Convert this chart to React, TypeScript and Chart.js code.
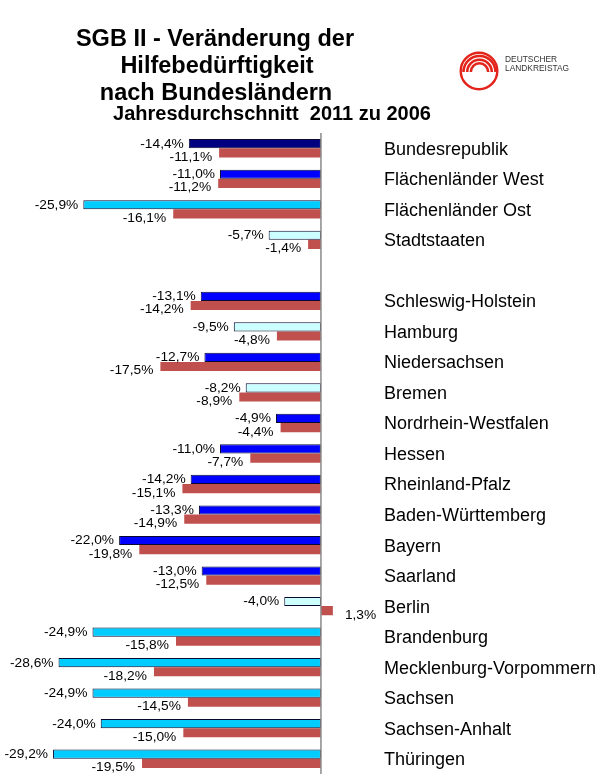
import React, { useEffect, useRef } from 'react';
import { Chart, registerables } from 'chart.js';

Chart.register(...registerables);

const titleLines = ['SGB II - Veränderung der', 'Hilfebedürftigkeit', 'nach Bundesländern'];
const subtitle = 'Jahresdurchschnitt  2011 zu 2006';

const categories = [
  'Bundesrepublik', 'Flächenländer West', 'Flächenländer Ost', 'Stadtstaaten', '',
  'Schleswig-Holstein', 'Hamburg', 'Niedersachsen', 'Bremen', 'Nordrhein-Westfalen',
  'Hessen', 'Rheinland-Pfalz', 'Baden-Württemberg', 'Bayern', 'Saarland', 'Berlin',
  'Brandenburg', 'Mecklenburg-Vorpommern', 'Sachsen', 'Sachsen-Anhalt', 'Thüringen',
];

const seriesA: (number | null)[] = [
  -14.4, -11.0, -25.9, -5.7, null,
  -13.1, -9.5, -12.7, -8.2, -4.9,
  -11.0, -14.2, -13.3, -22.0, -13.0, -4.0,
  -24.9, -28.6, -24.9, -24.0, -29.2,
];

const seriesB: (number | null)[] = [
  -11.1, -11.2, -16.1, -1.4, null,
  -14.2, -4.8, -17.5, -8.9, -4.4,
  -7.7, -15.1, -14.9, -19.8, -12.5, 1.3,
  -15.8, -18.2, -14.5, -15.0, -19.5,
];

const regionGroup = [
  'bund', 'west', 'ost', 'stadt', '',
  'west', 'stadt', 'west', 'stadt', 'west',
  'west', 'west', 'west', 'west', 'west', 'stadt',
  'ost', 'ost', 'ost', 'ost', 'ost',
];

const xMin = -30;
const xMax = 6;

const groupColor: Record<string, string> = {
  bund: '#000080',
  west: '#0000FF',
  ost: '#00CCFF',
  stadt: '#CCFFFF',
  '': '#FFFFFF',
};

const FONT = '"Liberation Sans", Arial, Helvetica, sans-serif';

const fmt = (v: number) => v.toFixed(1).replace('.', ',') + '%';

const overlayPlugin = {
  id: 'overlay',
  afterDatasetsDraw(chart: any) {
    const ctx = chart.ctx as CanvasRenderingContext2D;
    const xs = chart.scales.x;
    const area = chart.chartArea;
    const x0 = xs.getPixelForValue(0);
    ctx.save();
    ctx.strokeStyle = '#8a8a8a';
    ctx.lineWidth = 1.5;
    ctx.beginPath();
    ctx.moveTo(x0, area.top);
    ctx.lineTo(x0, area.bottom);
    ctx.stroke();

    ctx.font = `12.5px ${FONT}`;
    ctx.fillStyle = '#000';
    ctx.textBaseline = 'middle';
    chart.data.datasets.forEach((ds: any, di: number) => {
      const meta = chart.getDatasetMeta(di);
      meta.data.forEach((bar: any, i: number) => {
        const v = ds.data[i];
        if (v === null || v === undefined) return;
        const dy = di === 0 ? 0.5 : 4.5;
        const gap = di === 0 ? 5 : 7;
        ctx.save();
        ctx.translate(v < 0 ? bar.x - gap : bar.x + 12, bar.y + dy);
        ctx.scale(1.1, 1);
        ctx.textAlign = v < 0 ? 'right' : 'left';
        ctx.fillText(fmt(v), 0, 0);
        ctx.restore();
      });
    });

    ctx.textAlign = 'center';
    ctx.textBaseline = 'alphabetic';
    ctx.font = `bold 23.5px ${FONT}`;
    ctx.fillText(titleLines[0], 215, 46);
    ctx.fillText(titleLines[1], 217, 73);
    ctx.fillText(titleLines[2], 216, 100);
    ctx.font = `bold 20px ${FONT}`;
    ctx.fillText(subtitle, 272, 120);
    ctx.restore();
  },
};

export default function App() {
  const ref = useRef<HTMLCanvasElement | null>(null);

  useEffect(() => {
    if (!ref.current) return;
    const chart = new Chart(ref.current, {
      type: 'bar',
      data: {
        labels: categories,
        datasets: [
          {
            label: 'A',
            data: seriesA,
            backgroundColor: regionGroup.map((g) => groupColor[g]),
            borderColor: '#0A0A30',
            borderWidth: 1,
            borderSkipped: false,
            categoryPercentage: 0.6,
            barPercentage: 1,
          },
          {
            label: 'B',
            data: seriesB,
            backgroundColor: '#C0504D',
            borderWidth: 0,
            categoryPercentage: 0.6,
            barPercentage: 1,
          },
        ],
      },
      options: {
        indexAxis: 'y',
        animation: false,
        responsive: true,
        maintainAspectRatio: false,
        layout: { padding: { top: 133, bottom: 7, left: 45.7, right: 0 } },
        plugins: {
          legend: { display: false },
          tooltip: { enabled: false },
          title: { display: false },
        },
        scales: {
          x: {
            type: 'linear',
            min: xMin,
            max: xMax,
            display: false,
          },
          y: {
            type: 'category',
            position: 'right',
            grid: { display: false, drawTicks: false },
            border: { display: false },
            ticks: {
              autoSkip: false,
              color: '#000',
              padding: 8,
              crossAlign: 'near',
              labelOffset: 1.5,
              font: { family: FONT, size: 18 },
            },
            afterFit: (scale: any) => {
              scale.width = 229;
              scale.paddingTop = 0;
              scale.paddingBottom = 0;
            },
          },
        },
      },
      plugins: [overlayPlugin],
    } as any);
    return () => chart.destroy();
  }, []);

  return (
    <div style={{ position: 'fixed', left: 0, top: 0, width: 605, height: 781, background: '#fff' }}>
      <canvas ref={ref} />
      <svg
        width={605}
        height={781}
        style={{ position: 'absolute', left: 0, top: 0, pointerEvents: 'none' }}
      >
        <circle cx={479} cy={71} r={18.3} fill="none" stroke="#E3241B" strokeWidth={2.4} />
        <path d="M463.5 72 A16 16 0 0 1 495.5 72" fill="none" stroke="#E3241B" strokeWidth={2.6} />
        <path d="M467.2 72 A12.3 12.3 0 0 1 491.8 72" fill="none" stroke="#E3241B" strokeWidth={2.6} />
        <path d="M470.8 72 A8.7 8.7 0 0 1 488.2 72" fill="none" stroke="#E3241B" strokeWidth={2.6} />
        <text x={505} y={61.7} fontFamily={FONT} fontSize={8.4} fill="#333">DEUTSCHER</text>
        <text x={505} y={70.5} fontFamily={FONT} fontSize={8.4} fill="#333">LANDKREISTAG</text>
      </svg>
    </div>
  );
}
